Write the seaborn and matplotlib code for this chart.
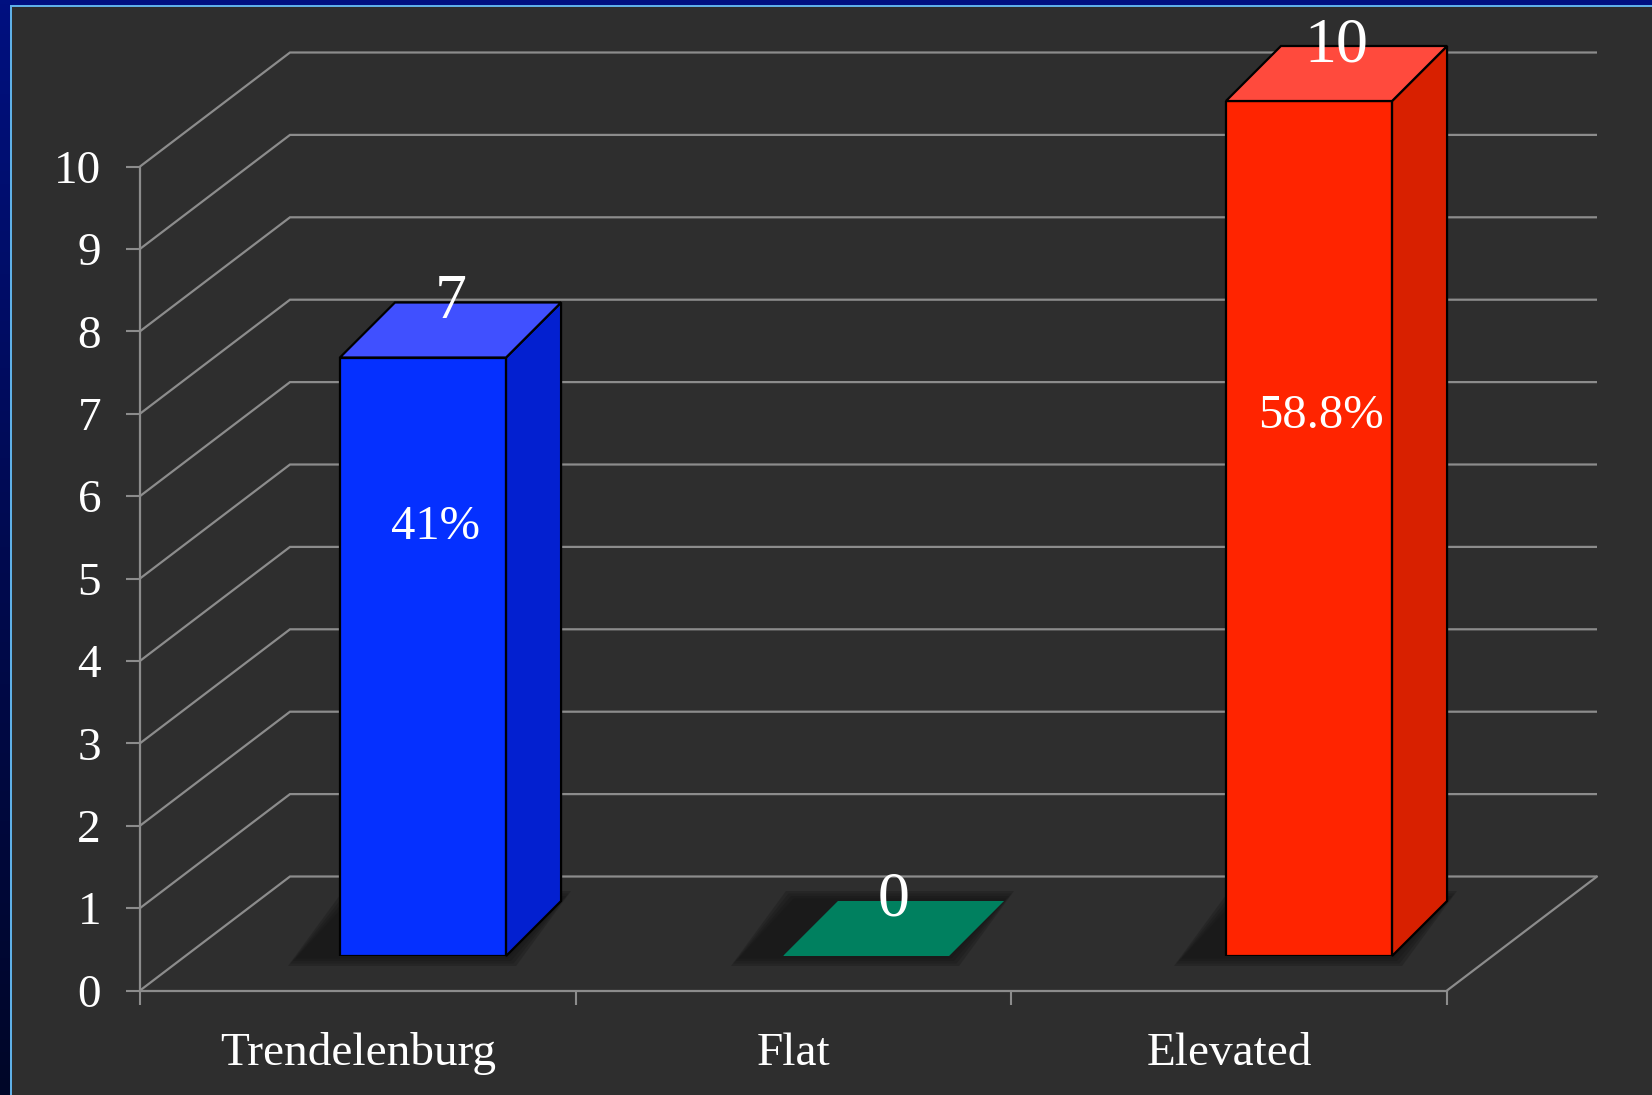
import numpy as np
import pandas as pd
import matplotlib
matplotlib.use("Agg")
import matplotlib.pyplot as plt
from matplotlib.patches import Polygon, Rectangle
from matplotlib.colors import LinearSegmentedColormap
import seaborn as sns

# ---- data ----
categories = ["Trendelenburg", "Flat", "Elevated"]
counts = [7, 0, 10]
pct_labels = ["41%", "", "58.8%"]
pct_label_y = [4.88, None, 6.18]
y_ticks = list(range(0, 11))

front_colors = ["#0530ff", "#00805f", "#ff2400"]
top_colors = ["#4050ff", "#00805f", "#ff4a3d"]
side_colors = ["#0320d0", "#006a50", "#d82000"]

BG = "#2e2e2e"
GRID = "#8c8c8c"
W, H, DPI = 1652, 1095, 100

sns.set_style("dark", {"axes.facecolor": "none", "figure.facecolor": BG})
plt.rcParams["font.family"] = ["Liberation Serif", "DejaVu Serif"]

fig = plt.figure(figsize=(W / DPI, H / DPI), dpi=DPI, facecolor=BG)


def px_box(x0, y_top, x1, y_bottom):
    """Pixel box (from the top-left corner) -> figure-fraction rect."""
    return [x0 / W, 1 - y_bottom / H, (x1 - x0) / W, (y_bottom - y_top) / H]


# ---- slide frame: navy band on top, gradient band on the left ----
fig.add_artist(Rectangle((0, 1 - 4.5 / H), 1, 4.5 / H, transform=fig.transFigure,
                         facecolor="#001080", edgecolor="none", zorder=0))
fig.add_artist(Rectangle((10 / W, 1 - 6.5 / H), 1, 2 / H, transform=fig.transFigure,
                         facecolor="#5fb0e8", edgecolor="none", zorder=0))
gax = fig.add_axes(px_box(0, 0, 9.5, H), zorder=0)
gax.imshow(np.linspace(0, 1, 256).reshape(-1, 1), aspect="auto",
           cmap=LinearSegmentedColormap.from_list("edge", ["#001080", "#000a50", "#000628"]))
gax.axis("off")
fig.add_artist(Rectangle((9.5 / W, 0), 2 / W, 1 - 4.5 / H, transform=fig.transFigure,
                         facecolor="#5fb0e8", edgecolor="none", zorder=0))

# ---- walls and floor (front plane of the frame) ----
ax = fig.add_axes(px_box(140, 166.5, 1447, 990.5), zorder=1)
ax.set_facecolor("none")
ax.set_xlim(-0.5, 2.5)
ax.set_ylim(0, 10)
ax.grid(False)
DX, DY = 150 / 435.67, 114 / 82.4  # depth of the floor, in data units

for v in y_ticks:
    ax.plot([-0.5, -0.5 + DX, 2.5 + DX], [v, v + DY, v + DY], color=GRID, lw=1.6,
            clip_on=False, solid_capstyle="butt", solid_joinstyle="miter", zorder=1)
ax.plot([2.5, 2.5 + DX], [0, DY], color=GRID, lw=1.6, clip_on=False, zorder=1)

ax.set_yticks(y_ticks)
ax.set_yticklabels([str(v) for v in y_ticks])
ax.set_xticks([-0.5, 0.5, 1.5, 2.5])
ax.set_xticklabels([])
ax.set_xticks([0, 1, 2], minor=True)
ax.set_xticklabels(categories, minor=True)
ax.tick_params(axis="y", which="major", left=True, length=10, width=1.5, color=GRID,
               direction="out", labelsize=34, labelcolor="white", pad=18)
ax.tick_params(axis="x", which="major", bottom=True, length=10, width=1.5, color=GRID,
               direction="out")
ax.tick_params(axis="x", which="minor", bottom=True, length=0, labelsize=34,
               labelcolor="white", pad=30)
for s in ["top", "right"]:
    ax.spines[s].set_visible(False)
for s in ["left", "bottom"]:
    ax.spines[s].set_visible(True)
    ax.spines[s].set_color(GRID)
    ax.spines[s].set_linewidth(1.6)

# ---- bars ----
bax = fig.add_axes(px_box(201.5, 101, 1530.5, 956), zorder=2)
df = pd.DataFrame({"position": categories, "count": counts})
sns.barplot(data=df, x="position", y="count", hue="position", palette=front_colors,
            saturation=1, width=0.375, edgecolor="black", linewidth=1.6,
            legend=False, ax=bax, zorder=3)
bax.set_xlim(-0.5, 2.5)
bax.set_ylim(0, 10)
bax.axis("off")

ux, uy = 443.0, 85.5          # pixels per data unit in the bar axes
bdx, bdy = 55 / ux, 55 / uy   # bar depth
shx = 42 / ux                 # shadow offset to the left

bars = sorted(bax.patches, key=lambda p: p.get_x())
for i, p in enumerate(bars):
    x0, w, h = p.get_x(), p.get_width(), p.get_height()
    x1 = x0 + w
    # soft shadow on the floor
    for k in range(4):
        e = (4 - k) * 2.5
        ex, ey = e / ux, e / uy
        foot = [(x0 - shx - ex, -ey), (x1 + ex, -ey),
                (x1 + bdx + ex, bdy + ey), (x0 + bdx - shx - ex, bdy + ey)]
        bax.add_patch(Polygon(foot, closed=True, facecolor="#161616", edgecolor="none",
                              alpha=0.3, zorder=1, clip_on=False))
    edge = "black" if h > 0 else "none"
    if h > 0:
        side = [(x1, 0), (x1 + bdx, bdy), (x1 + bdx, h + bdy), (x1, h)]
        bax.add_patch(Polygon(side, closed=True, facecolor=side_colors[i], edgecolor=edge,
                              linewidth=1.6, joinstyle="miter", zorder=3, clip_on=False))
    top = [(x0, h), (x1, h), (x1 + bdx, h + bdy), (x0 + bdx, h + bdy)]
    bax.add_patch(Polygon(top, closed=True, facecolor=top_colors[i], edgecolor=edge,
                          linewidth=1.6, joinstyle="miter", zorder=3, clip_on=False))

    xc = x0 + w / 2
    bax.annotate(str(counts[i]), xy=(xc, h), xytext=(27.5, 40), textcoords="offset pixels",
                 ha="center", va="baseline", fontsize=46, color="white", zorder=5,
                 annotation_clip=False)
    if pct_labels[i]:
        bax.text(xc + 12 / ux, pct_label_y[i], pct_labels[i], ha="center", va="baseline",
                 fontsize=35, color="white", zorder=5)

fig.savefig("out.png", dpi=DPI, facecolor=BG)
